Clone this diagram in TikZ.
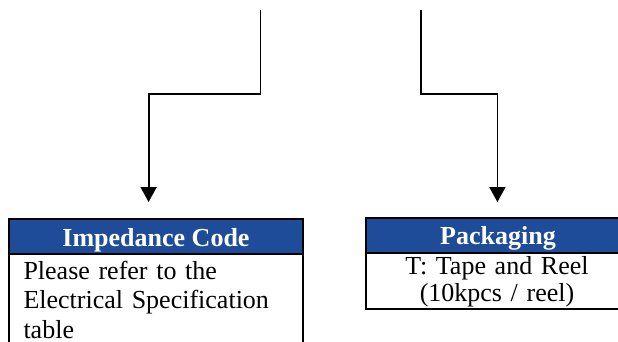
\documentclass[tikz,border=0pt]{standalone}
\usepackage{fontspec}
\setmainfont{Liberation Serif}
\usetikzlibrary{arrows.meta}
\definecolor{hdrblue}{RGB}{30,76,152}
\tikzset{
  conn/.style={line width=1.8pt, line join=miter},
  arr/.style={conn, -{Triangle[width=16pt,length=15pt]}},
  hdrbox/.style={draw=black, line width=2pt, fill=hdrblue, text=white,
    font=\fontsize{26}{30}\selectfont\bfseries, inner sep=0pt,
    text height=27pt, text depth=8pt, anchor=north west},
  bodybox/.style={draw=black, line width=2pt, fill=white, inner sep=0pt, anchor=north west},
  bodytext/.style={font=\fontsize{26}{29.7}\selectfont, inner sep=0pt}
}
\begin{document}
\begin{tikzpicture}[x=1pt,y=-1pt]
\useasboundingbox (0,0) rectangle (618,341);
\clip (0,0) rectangle (618,341);
% box 1
\node[bodybox, minimum width=293.4pt, minimum height=120pt] (b1) at (8.3,253.3) {};
\node[hdrbox, minimum width=293.4pt, minimum height=35pt] (h1) at (8.3,218.3) {Impedance Code};
\node[bodytext, anchor=base west, text width=280pt, align=left] (t1) at (23.3,279)
  {Please refer to the\\ Electrical Specification\\ table};
% box 2
\node[bodybox, minimum width=264pt, minimum height=56.6pt] (b2) at (365,251.7) {};
\node[hdrbox, minimum width=264pt, minimum height=35pt] (h2) at (365,216.7) {Packaging};
\node[bodytext, font=\fontsize{26}{27.7}\selectfont, anchor=base, text width=250pt, align=center] (t2) at (497,274)
  {T: Tape and Reel\\ (10kpcs / reel)};
% connectors
\coordinate (s1) at (260.5,10);
\coordinate (m1) at (260.5,94);
\coordinate (e1) at (148.6,202);
\coordinate (s2) at (420.6,10);
\coordinate (m2) at (420.6,94);
\coordinate (e2) at (497.4,202);
\draw[arr] (s1) -- (m1) -| (e1);
\draw[arr] (s2) -- (m2) -| (e2);
\end{tikzpicture}
\end{document}
